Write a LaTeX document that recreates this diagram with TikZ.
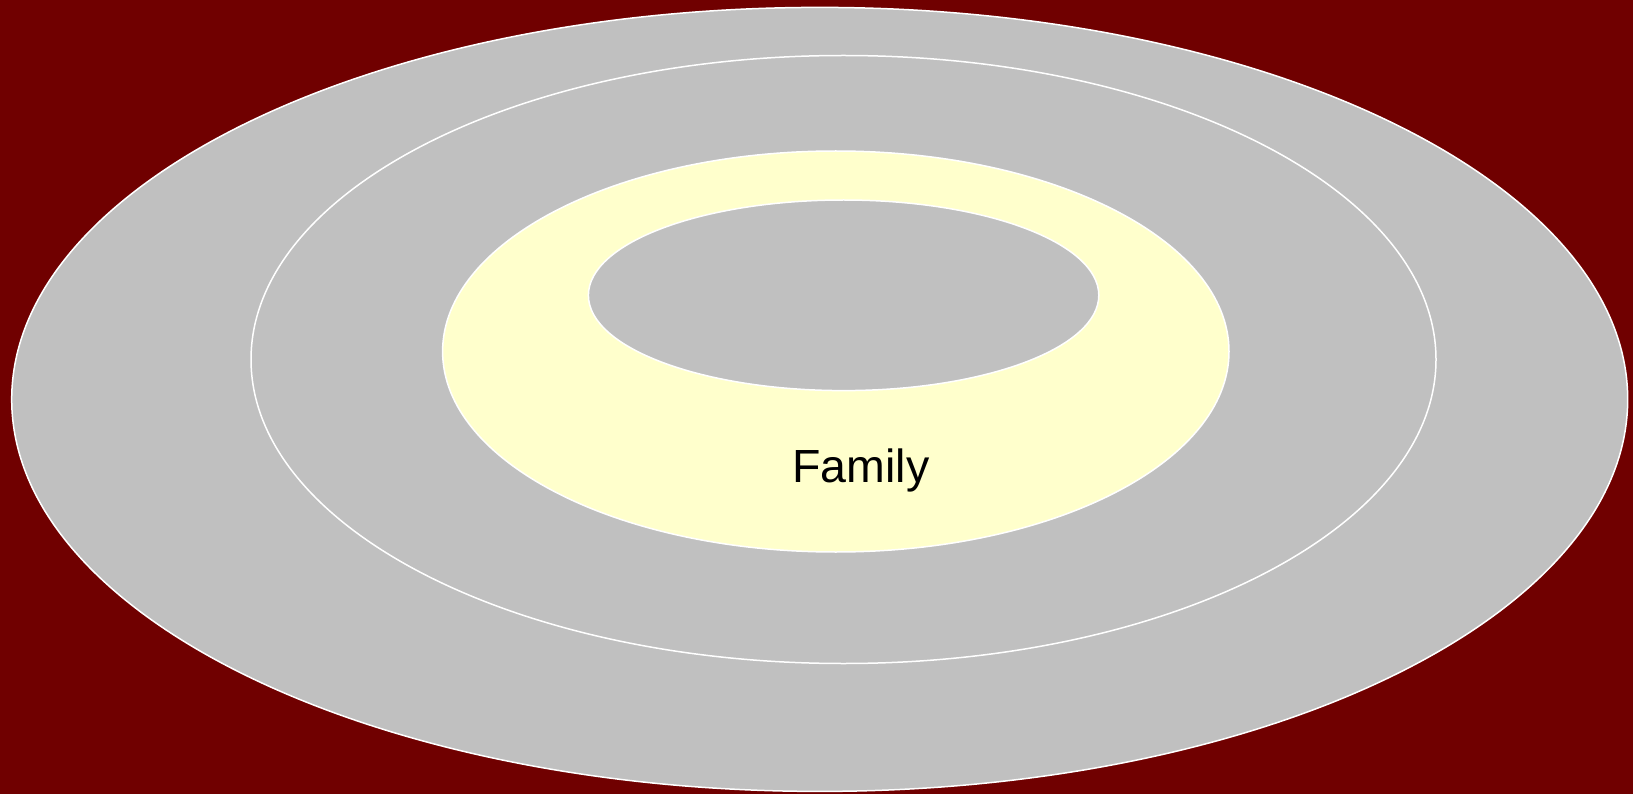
\documentclass[tikz,border=0pt]{standalone}
\usepackage{fontspec}
\setmainfont{Liberation Sans}
\usetikzlibrary{positioning}
\definecolor{bgmaroon}{HTML}{700000}
\definecolor{ringgray}{HTML}{C0C0C0}
\definecolor{ringyellow}{HTML}{FFFFCC}

\begin{document}
\begin{tikzpicture}[x=1pt, y=-1pt, ring/.style={draw=white, line width=1.5pt}]
% Background
\fill[bgmaroon] (0,0) rectangle (1633,794);
\useasboundingbox (0,0) rectangle (1633,794);
% Rings, from outside in
\draw[ring, fill=ringgray] (819.7,399.4) ellipse [x radius=808pt, y radius=392pt];
\draw[ring, fill=ringgray] (843.5,359.5) ellipse [x radius=592.5pt, y radius=304pt];
\draw[ring, fill=ringyellow] (835.8,351.5) ellipse [x radius=393.2pt, y radius=200.5pt];
\draw[ring, fill=ringgray] (843.6,295.3) ellipse [x radius=255.2pt, y radius=95.3pt];
% Label
\node[font=\fontsize{46.5}{56}\selectfont, anchor=base, inner sep=0pt] (family) at (861,482) {Family};
\end{tikzpicture}
\end{document}
